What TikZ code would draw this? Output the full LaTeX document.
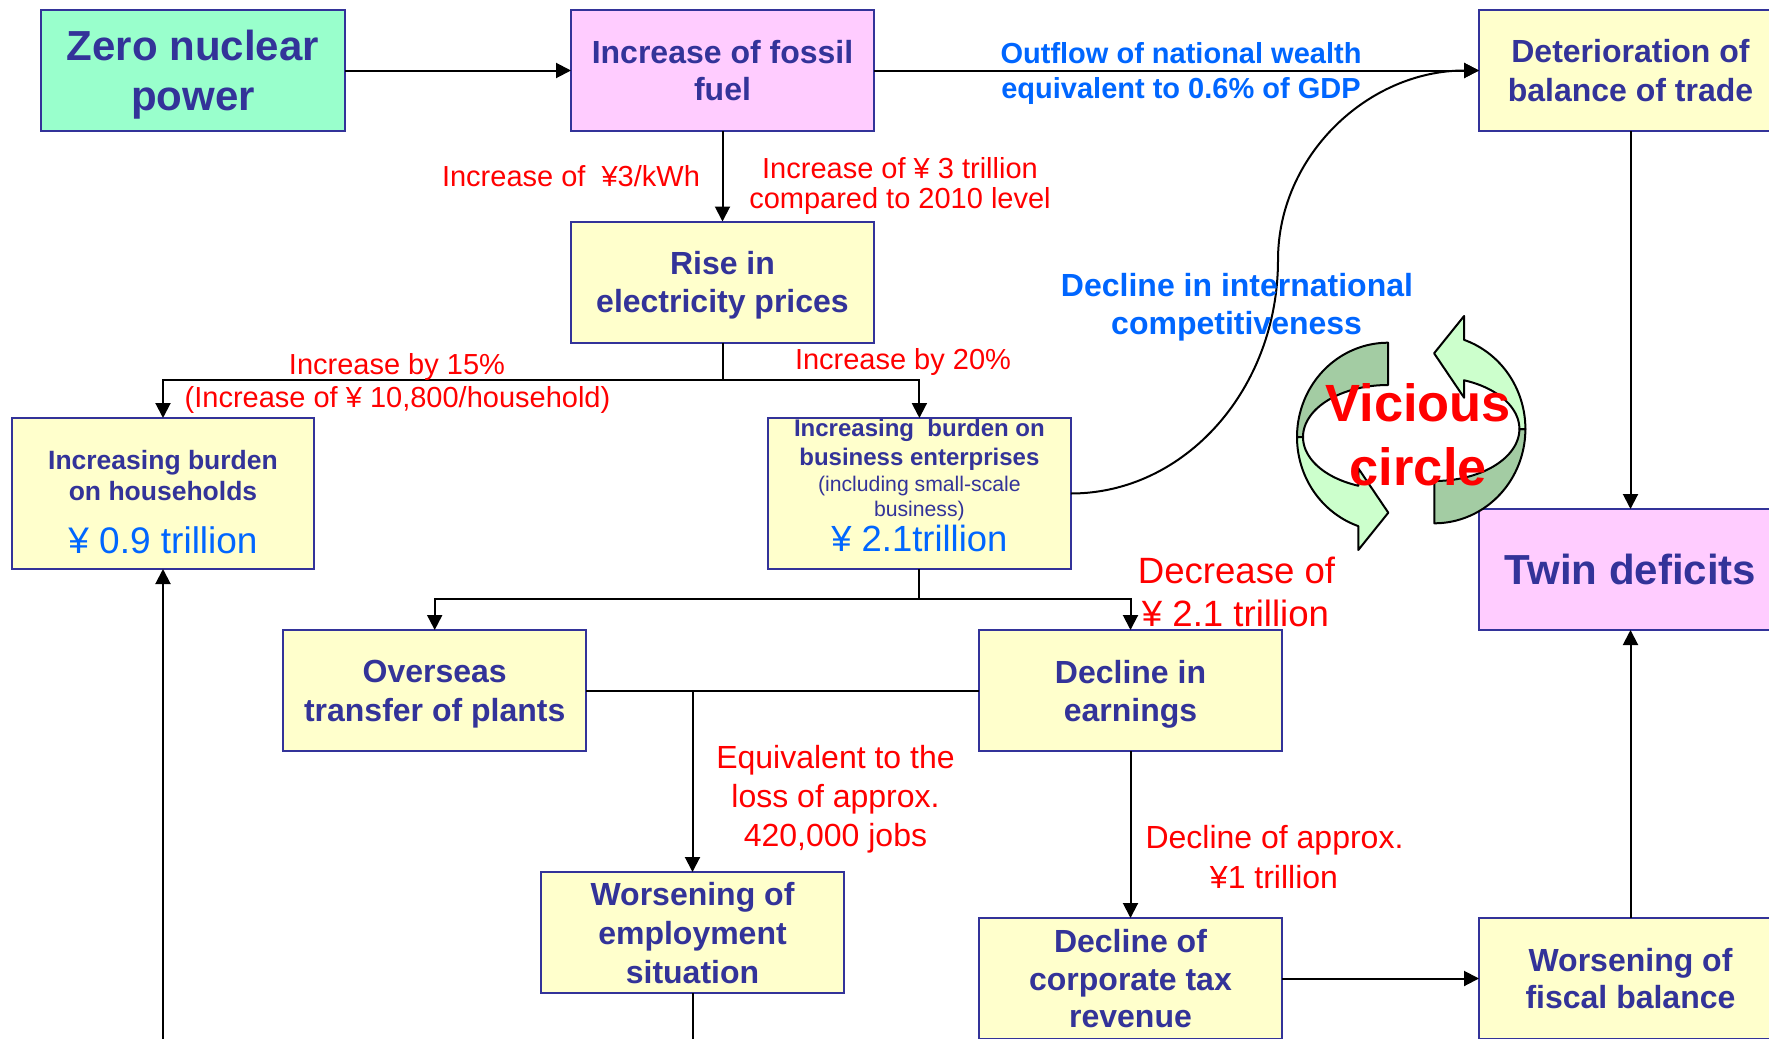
\documentclass[tikz,border=0pt]{standalone}
\usepackage{fontspec}
\setmainfont{Liberation Sans}
\usetikzlibrary{arrows.meta}
\newcommand{\fs}[2]{\fontsize{#1pt}{#2pt}\selectfont}
\definecolor{navy}{RGB}{51,51,153}
\definecolor{mint}{RGB}{153,255,204}
\definecolor{pinkbox}{RGB}{255,204,255}
\definecolor{ybox}{RGB}{255,255,204}
\definecolor{lblue}{RGB}{0,102,255}
\definecolor{dgreen}{RGB}{163,204,163}
\definecolor{lgreen}{RGB}{204,255,204}
\begin{document}
\begin{tikzpicture}[x=0.5pt,y=-0.5pt,
  box/.style={draw=navy, line width=1pt, inner sep=0pt, outer sep=0pt,
    minimum width=151.5pt, minimum height=60.5pt, align=center, text=navy,
    font=\bfseries\fs{16}{19}, text depth=0pt},
  lab/.style={inner sep=0pt, anchor=base, text=red, font=\fs{14.5}{15}},
  blab/.style={inner sep=0pt, anchor=base, text=lblue, font=\bfseries\fs{14.5}{15}},
  btxt/.style={inner sep=0pt, anchor=base, text=navy},
  conn/.style={line width=1pt},
  arr/.style={conn, -{Triangle[length=7.5pt,width=7.5pt]}},
  ring/.style={draw=black, line width=1pt, line join=round}]
\useasboundingbox (0,0) rectangle (1769,1039);
\clip (0,0) rectangle (1769,1039);

% boxes
\node[box, fill=mint, font=\bfseries\fs{21}{25}, minimum width=152pt] (zero) at (193,70.5) {Zero nuclear\\power};
\node[box, fill=pinkbox, font=\bfseries\fs{16}{18.5}] (fossil) at (722.5,70.5) {Increase of fossil\\fuel};
\node[box, fill=ybox, font=\bfseries\fs{16}{19.75}] (deter) at (1630.5,70.5) {Deterioration of\\balance of trade};
\node[box, fill=ybox] (rise) at (722.5,282) {Rise in\\electricity prices};
\node[box, fill=ybox, minimum width=151pt, minimum height=75.5pt] (house) at (163,493.5) {};
\node[box, fill=ybox, minimum height=75.5pt] (busi) at (919.4,493.5) {};
\node[box, fill=pinkbox, font=\bfseries\fs{21}{25}] (twin) at (1630.5,569.5) {Twin deficits};
\node[box, fill=ybox, font=\bfseries\fs{16}{19.5}] (overseas) at (434.7,690.5) {Overseas\\transfer of plants};
\node[box, fill=ybox] (earnings) at (1130.5,690.5) {Decline in\\earnings};
\node[box, fill=ybox, font=\bfseries\fs{16}{19.5}] (employ) at (692.5,932.5) {Worsening of\\employment\\situation};
\node[box, fill=ybox, font=\bfseries\fs{16}{18.75}] (corp) at (1130.5,978.5) {Decline of\\corporate tax\\revenue};
\node[box, fill=ybox, font=\bfseries\fs{16}{18.35}] (fiscal) at (1630.5,978.5) {Worsening of\\fiscal balance};

% texts inside the two burden boxes
\node[btxt, font=\bfseries\fs{13.25}{15}] (houset1) at (163,469) {Increasing burden};
\node[btxt, font=\bfseries\fs{13.25}{15}] (houset2) at (163,500) {on households};
\node[btxt, text=lblue, font=\fs{18.5}{20}] (housev) at (163,553) {¥ 0.9 trillion};
\node[btxt, font=\bfseries\fs{12}{13}] (busit1) at (919.4,436.7) {Increasing\ \ burden on};
\node[btxt, font=\bfseries\fs{12}{13}] (busit2) at (919.4,465) {business enterprises};
\node[btxt, font=\fs{10.6}{12}] (busit3) at (919.4,491.7) {(including small-scale};
\node[btxt, font=\fs{10.6}{12}] (busit4) at (919.4,516.7) {business)};
\node[btxt, text=lblue, font=\fs{18.2}{20}] (busiv) at (919.4,551.7) {¥ 2.1trillion};

% junction points
\coordinate (j1) at (722.5,380);
\coordinate (j2) at (919.4,599);
\coordinate (j3) at (692.5,690.5);
\coordinate (hb) at (163,1045);
\coordinate (eb) at (692.5,1045);
\coordinate (cm) at (1278,260);

% connectors
\draw[arr] (zero) -- (fossil);
\draw[arr] (fossil) -- (deter);
\draw[arr] (fossil) -- (rise);
\draw[conn] (rise.south) -- (j1);
\draw[arr] (j1) -| (house.north);
\draw[arr] (j1) -| (busi.north);
\draw[conn] (busi.south) -- (j2);
\draw[arr] (j2) -| (overseas.north);
\draw[arr] (j2) -| (earnings.north);
\draw[conn] (overseas.east) -- (earnings.west);
\draw[arr] (j3) -- (employ.north);
\draw[arr] (earnings) -- (corp);
\draw[arr] (corp) -- (fiscal);
\draw[arr] (fiscal) -- (twin);
\draw[arr] (deter) -- (twin);
\draw[arr] (busi.east) .. controls (1185,493.5) and (1278,389) .. (cm)
  .. controls (1278,155.6) and (1368,70.5) .. (deter.west);
\draw[arr] (hb) -- (house.south);
\draw[conn] (employ.south) -- (eb);

% labels
\node[lab] (l1) at (571,186.7) {Increase of\ \ ¥3/kWh};
\node[lab] (l2a) at (900,178) {Increase of ¥ 3 trillion};
\node[lab] (l2b) at (900,208.6) {compared to 2010 level};
\node[lab] (l3a) at (397,374) {Increase by 15\%};
\node[lab] (l3b) at (397.5,407.3) {(Increase of ¥ 10,800/household)};
\node[lab] (l4) at (903,369) {Increase by 20\%};
\node[lab, font=\fs{18.3}{20}] (l5a) at (1236.5,583.3) {Decrease of};
\node[lab, font=\fs{18.3}{20}] (l5b) at (1235.5,626.7) {¥ 2.1 trillion};
\node[lab, font=\fs{16}{18}] (l6a) at (835.5,768.8) {Equivalent to the};
\node[lab, font=\fs{16}{18}] (l6b) at (835.5,807.5) {loss of approx.};
\node[lab, font=\fs{16}{18}] (l6c) at (835.5,846) {420,000 jobs};
\node[lab, font=\fs{16}{18}] (l7a) at (1274.5,848.3) {Decline of approx.};
\node[lab, font=\fs{16}{18}] (l7b) at (1274,888.3) {¥1 trillion};
\node[blab] (b1a) at (1181,63.1) {Outflow of national wealth};
\node[blab] (b1b) at (1181,98.7) {equivalent to 0.6\% of GDP};
\node[blab, font=\bfseries\fs{16}{18}] (b2a) at (1237,296.6) {Decline in international};
\node[blab, font=\bfseries\fs{16}{18}] (b2b) at (1236.6,334.9) {competitiveness};

% vicious circle arrows
\newcommand{\ringarrow}{%
  \filldraw[ring, fill=dgreen]
    plot[domain=270:180, samples=40] ({1388+91*cos(\x)},{437+94.3*sin(\x)})
    -- plot[domain=180:270, samples=40] ({1388+85*cos(\x)},{437+52*sin(\x)})
    -- cycle;
  \filldraw[ring, fill=lgreen]
    plot[domain=180:109.05, samples=40] ({1388+91*cos(\x)},{437+94.3*sin(\x)})
    -- (1358.3,550) -- (1388.3,512.7) -- (1358.3,468.3)
    -- plot[domain=110.45:180, samples=40] ({1388+85*cos(\x)},{437+52*sin(\x)})
    -- cycle;}
\ringarrow
\begin{scope}[rotate around={180:(1411.2,433)}]
\ringarrow
\end{scope}
\node[inner sep=0pt, anchor=base, text=red, font=\bfseries\fs{26.2}{28}] (vc1) at (1418.3,421.7) {Vicious};
\node[inner sep=0pt, anchor=base, text=red, font=\bfseries\fs{26.2}{28}] (vc2) at (1418.3,485) {circle};
\end{tikzpicture}
\end{document}
